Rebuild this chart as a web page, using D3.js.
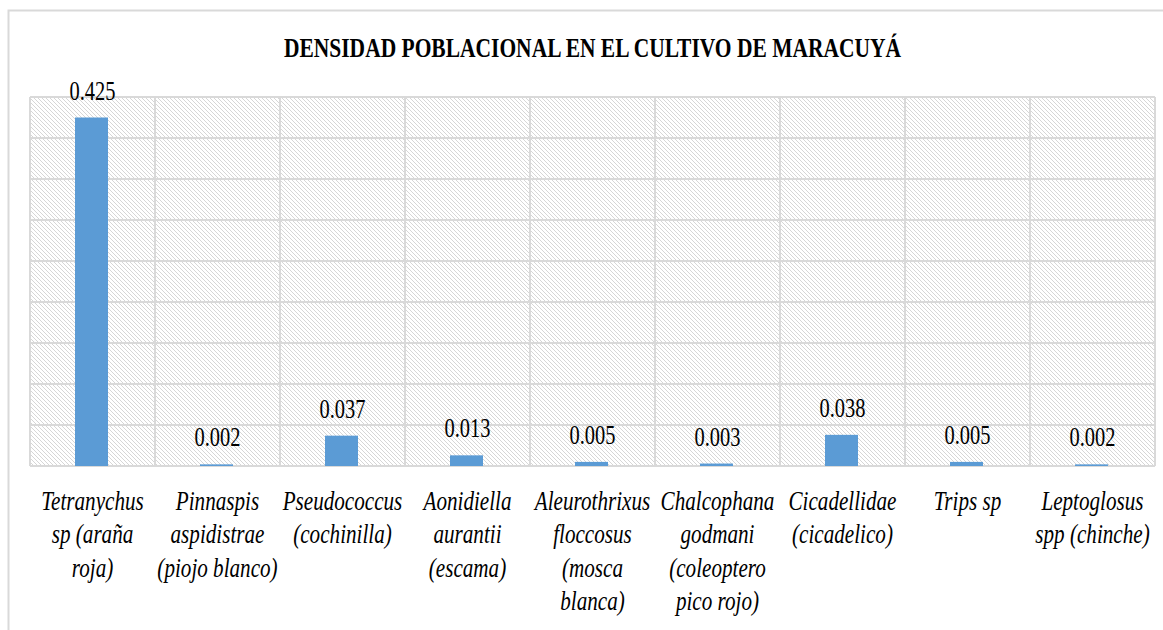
<!DOCTYPE html>
<html>
<head>
<meta charset="utf-8">
<script src="https://cdn.jsdelivr.net/npm/d3@7/dist/d3.min.js"></script>
<style>
  html, body { margin: 0; padding: 0; background: #fff; }
  svg { display: block; }
</style>
</head>
<body>
<svg id="chart" width="1163" height="630"></svg>
<script>
// ---- data ----
const title = "DENSIDAD POBLACIONAL EN EL CULTIVO DE MARACUYÁ";
const categories = [
  "Tetranychus sp (araña roja)",
  "Pinnaspis aspidistrae (piojo blanco)",
  "Pseudococcus (cochinilla)",
  "Aonidiella aurantii (escama)",
  "Aleurothrixus floccosus (mosca blanca)",
  "Chalcophana godmani (coleoptero pico rojo)",
  "Cicadellidae (cicadelico)",
  "Trips sp",
  "Leptoglosus spp (chinche)"
];
const categoryLines = [
  ["Tetranychus", "sp (araña", "roja)"],
  ["Pinnaspis", "aspidistrae", "(piojo blanco)"],
  ["Pseudococcus", "(cochinilla)"],
  ["Aonidiella", "aurantii", "(escama)"],
  ["Aleurothrixus", "floccosus", "(mosca", "blanca)"],
  ["Chalcophana", "godmani", "(coleoptero", "pico rojo)"],
  ["Cicadellidae", "(cicadelico)"],
  ["Trips sp"],
  ["Leptoglosus", "spp (chinche)"]
];
const values = [0.425, 0.002, 0.037, 0.013, 0.005, 0.003, 0.038, 0.005, 0.002];
const yTicks = [0, 0.05, 0.10, 0.15, 0.20, 0.25, 0.30, 0.35, 0.40, 0.45];

// ---- layout ----
const FONT = "'Liberation Serif', 'Times New Roman', Times, Tinos, 'DejaVu Serif', serif";
const svg = d3.select("#chart");
const plot = { left: 30, right: 1155, top: 97, bottom: 466 };
const grid = "#d9d9d9";

const defs = svg.append("defs");
const pat = defs.append("pattern")
  .attr("id", "hatch").attr("patternUnits", "userSpaceOnUse")
  .attr("width", 4).attr("height", 4);
pat.append("rect").attr("width", 4).attr("height", 4).attr("fill", "#fff");
pat.append("path").attr("d", "M0,0 L4,4 M-1,3 L1,5 M3,-1 L5,1")
  .attr("stroke", "#d6d6d6").attr("stroke-width", 1);

// outer chart border
svg.append("rect").attr("x", 8.5).attr("y", 10.5).attr("width", 1170).attr("height", 640)
  .attr("fill", "#fff").attr("stroke", grid).attr("stroke-width", 2);

const x = d3.scaleBand().domain(categories).range([plot.left, plot.right]).padding(0);
const y = d3.scaleLinear().domain([0, 0.45]).range([plot.bottom, plot.top]);

// plot background hatch
svg.append("rect").attr("x", plot.left).attr("y", plot.top)
  .attr("width", plot.right - plot.left).attr("height", plot.bottom - plot.top)
  .attr("fill", "url(#hatch)");

// horizontal gridlines
svg.append("g").selectAll("line").data(yTicks).join("line")
  .attr("x1", plot.left).attr("x2", plot.right)
  .attr("y1", d => y(d)).attr("y2", d => y(d))
  .attr("stroke", grid).attr("stroke-width", 2);

// vertical gridlines at category boundaries
const bounds = categories.map(c => x(c)).concat([x.range()[1]]);
svg.append("g").selectAll("line").data(bounds).join("line")
  .attr("x1", d => d).attr("x2", d => d)
  .attr("y1", plot.top).attr("y2", plot.bottom)
  .attr("stroke", grid).attr("stroke-width", 2);

// bars
const barW = x.bandwidth() * 0.264;
svg.append("g").selectAll("rect").data(values).join("rect")
  .attr("x", (d, i) => x(categories[i]) + x.bandwidth() / 2 - barW / 2 - 1)
  .attr("y", d => y(d))
  .attr("width", barW)
  .attr("height", d => y(0) - y(d))
  .attr("fill", "#5B9BD5");

// value labels
svg.append("g").selectAll("text").data(values).join("text")
  .attr("transform", (d, i) => `translate(${x(categories[i]) + x.bandwidth() / 2},${y(d) - 18}) scale(0.73,1)`)
  .attr("text-anchor", "middle")
  .attr("font-family", FONT).attr("font-size", 28).attr("fill", "#000")
  .text(d => d3.format(".3f")(d));

// category labels
const cg = svg.append("g").selectAll("g").data(categories).join("g")
  .attr("transform", c => `translate(${x(c) + x.bandwidth() / 2},510) scale(0.755,1)`);
cg.each(function(c, i) {
  const t = d3.select(this).append("text")
    .attr("text-anchor", "middle")
    .attr("font-family", FONT).attr("font-size", 28).attr("font-style", "italic").attr("fill", "#000");
  categoryLines[i].forEach((ln, k) => {
    t.append("tspan").attr("x", 0).attr("y", k * 33.5).text(ln);
  });
});

// title
svg.append("text")
  .attr("transform", `translate(${(plot.left + plot.right) / 2},57) scale(0.796,1)`)
  .attr("text-anchor", "middle")
  .attr("font-family", FONT).attr("font-size", 27).attr("font-weight", "bold").attr("fill", "#000")
  .text(title);
</script>
</body>
</html>
